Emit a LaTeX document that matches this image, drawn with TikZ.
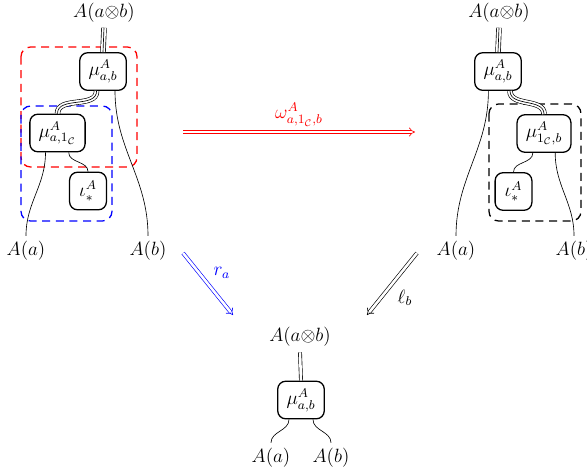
\documentclass[tikz,border=0pt]{standalone}
\usepackage{amsmath,amssymb}
\usepackage{xcolor}
\usepackage{tikz}
\usetikzlibrary{arrows.meta}

\begin{document}
\begin{tikzpicture}[x=0.625pt, y=0.625pt, every node/.style={font=\large},
  box/.style={draw, thick, rounded corners=5pt, minimum height=23.5pt, minimum width=23pt, inner xsep=5.5pt, inner ysep=3.5pt},
  triple/.style={preaction={draw, line width=3.4pt}, preaction={draw, white, line width=2.6pt}, line width=0.4pt},
  twoline/.style={double, double distance=1.6pt, thin},
  region/.style={thick, rounded corners=6pt, dash pattern=on 5pt off 3.5pt},
  cell/.style={double, double distance=1.6pt, -{Implies}, thin}]
\useasboundingbox (0,0) rectangle (587,-471);

% Left
\node (ltop) at (104,-12.5) {$A(a{\otimes}b)$};
\node[box] (lmab) at (103,-71.5) {$\mu^A_{a,b}$};
\node[box] (lmaone) at (57.5,-133) {$\mu^A_{a,1_{\mathcal C}}$};
\node[box] (liota) at (88,-191) {$\iota^A_*$};
\node (la) at (26,-251) {$A(a)$};
\node (lb) at (148,-251) {$A(b)$};
\draw[red, region] (21,-47) rectangle (137,-167);
\draw[blue, region] (21,-106) rectangle (112,-221);

\draw[triple] (ltop.south) -- (lmab.north);
\draw[triple] ([xshift=-4pt]lmab.south) to[out=-90, in=90] (lmaone.north);
\draw ([xshift=7.5pt]lmab.south) to[out=-90, in=90] (lb.north);
\draw ([xshift=-7.5pt]lmaone.south) to[out=-90, in=90] (la.north);
\draw ([xshift=7pt]lmaone.south) to[out=-90, in=90] (liota.north);

% Right
\node (rtop) at (499,-12.5) {$A(a{\otimes}b)$};
\node[box] (rmab) at (498,-71.5) {$\mu^A_{a,b}$};
\node[box] (rmoneb) at (544,-133.5) {$\mu^A_{1_{\mathcal C},b}$};
\node[box] (riota) at (513.5,-191.5) {$\iota^A_*$};
\node (ra) at (456,-251) {$A(a)$};
\node (rb) at (574,-251) {$A(b)$};
\draw[region] (489,-104) rectangle (581,-221);

\draw[triple] (rtop.south) -- (rmab.north);
\draw[triple] ([xshift=7.5pt]rmab.south) to[out=-90, in=90] (rmoneb.north);
\draw ([xshift=-6pt]rmab.south) to[out=-90, in=90] (ra.north);
\draw ([xshift=-7pt]rmoneb.south) to[out=-90, in=90] (riota.north);
\draw ([xshift=7pt]rmoneb.south) to[out=-90, in=90] (rb.north);

% Bottom
\node (btop) at (300,-337) {$A(a{\otimes}b)$};
\node[box] (bmab) at (301,-400) {$\mu^A_{a,b}$};
\node (ba) at (271,-458) {$A(a)$};
\node (bb) at (331,-458) {$A(b)$};

\draw[twoline] (btop.south) -- (bmab.north);
\draw ([xshift=-7.5pt]bmab.south) to[out=-90, in=90] (ba.north);
\draw ([xshift=7.5pt]bmab.south) to[out=-90, in=90] (bb.north);

% Cells
\coordinate (wl) at (183,-132);
\coordinate (wr) at (415,-132);
\coordinate (rs) at (183,-253);
\coordinate (re) at (233,-315);
\coordinate (ls) at (417,-253);
\coordinate (le) at (367,-315);

\draw[cell, red] (wl) -- node[above=0pt] {$\omega^A_{a,1_{\mathcal C},b}$} (wr);
\draw[cell, blue] (rs) -- node[above right=0pt] {$r_a$} (re);
\draw[cell] (ls) -- node[below right=0pt] {$\ell_b$} (le);
\end{tikzpicture}
\end{document}
